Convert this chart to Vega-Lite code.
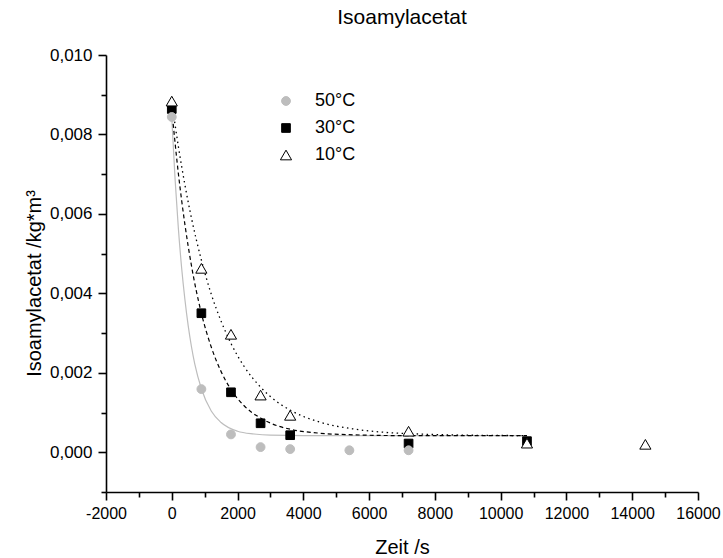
{
  "$schema": "https://vega.github.io/schema/vega-lite/v6.json",
  "width": 592,
  "height": 437,
  "autosize": "none",
  "padding": {"left": 106, "top": 55, "right": 25, "bottom": 66},
  "config": {
    "font": "Liberation Sans",
    "view": {"stroke": null},
    "axis": {"grid": false, "domainColor": "#000", "tickColor": "#000", "labelColor": "#000", "titleColor": "#000", "domainWidth": 1.6, "tickWidth": 1.6, "labelFont": "Liberation Sans", "titleFont": "Liberation Sans", "titleFontWeight": "normal", "labelOverlap": false, "labelBound": false, "labelFlush": false}
  },
  "title": {"text": "Isoamylacetat", "fontSize": 21, "fontWeight": "normal", "font": "Liberation Sans", "color": "#000", "anchor": "middle", "offset": 18},
  "datasets": {
    "fit": [
      {"series": "50°C", "t": 0, "c": 0.00842},
      {"series": "50°C", "t": 100, "c": 0.00688},
      {"series": "50°C", "t": 200, "c": 0.00564},
      {"series": "50°C", "t": 300, "c": 0.00464},
      {"series": "50°C", "t": 400, "c": 0.00384},
      {"series": "50°C", "t": 500, "c": 0.00318},
      {"series": "50°C", "t": 600, "c": 0.00265},
      {"series": "50°C", "t": 700, "c": 0.00222},
      {"series": "50°C", "t": 900, "c": 0.00160},
      {"series": "50°C", "t": 1200, "c": 0.00104},
      {"series": "50°C", "t": 1500, "c": 0.00075},
      {"series": "50°C", "t": 2000, "c": 0.00053},
      {"series": "50°C", "t": 2500, "c": 0.00046},
      {"series": "50°C", "t": 3000, "c": 0.00043},
      {"series": "50°C", "t": 4000, "c": 0.00042},
      {"series": "50°C", "t": 6000, "c": 0.00042},
      {"series": "50°C", "t": 8000, "c": 0.00042},
      {"series": "50°C", "t": 10800, "c": 0.00042},
      {"series": "30°C", "t": 0, "c": 0.00862},
      {"series": "30°C", "t": 200, "c": 0.00702},
      {"series": "30°C", "t": 400, "c": 0.00573},
      {"series": "30°C", "t": 600, "c": 0.00469},
      {"series": "30°C", "t": 900, "c": 0.00350},
      {"series": "30°C", "t": 1200, "c": 0.00265},
      {"series": "30°C", "t": 1500, "c": 0.00203},
      {"series": "30°C", "t": 1800, "c": 0.00158},
      {"series": "30°C", "t": 2200, "c": 0.00117},
      {"series": "30°C", "t": 2700, "c": 0.00086},
      {"series": "30°C", "t": 3200, "c": 0.00067},
      {"series": "30°C", "t": 3600, "c": 0.00058},
      {"series": "30°C", "t": 4500, "c": 0.00048},
      {"series": "30°C", "t": 5500, "c": 0.00044},
      {"series": "30°C", "t": 7000, "c": 0.00042},
      {"series": "30°C", "t": 10800, "c": 0.00042},
      {"series": "10°C", "t": 0, "c": 0.00882},
      {"series": "10°C", "t": 200, "c": 0.00770},
      {"series": "10°C", "t": 400, "c": 0.00673},
      {"series": "10°C", "t": 600, "c": 0.00589},
      {"series": "10°C", "t": 900, "c": 0.00484},
      {"series": "10°C", "t": 1200, "c": 0.00398},
      {"series": "10°C", "t": 1500, "c": 0.00330},
      {"series": "10°C", "t": 1800, "c": 0.00274},
      {"series": "10°C", "t": 2200, "c": 0.00216},
      {"series": "10°C", "t": 2700, "c": 0.00164},
      {"series": "10°C", "t": 3200, "c": 0.00127},
      {"series": "10°C", "t": 3600, "c": 0.00106},
      {"series": "10°C", "t": 4500, "c": 0.00076},
      {"series": "10°C", "t": 5500, "c": 0.00059},
      {"series": "10°C", "t": 6500, "c": 0.00050},
      {"series": "10°C", "t": 7500, "c": 0.00046},
      {"series": "10°C", "t": 9000, "c": 0.00043},
      {"series": "10°C", "t": 10800, "c": 0.00042}
    ],
    "pts": [
      {"series": "30°C", "t": 0, "c": 0.00864},
      {"series": "30°C", "t": 900, "c": 0.00350},
      {"series": "30°C", "t": 1800, "c": 0.00151},
      {"series": "30°C", "t": 2700, "c": 0.00073},
      {"series": "30°C", "t": 3600, "c": 0.00043},
      {"series": "30°C", "t": 7200, "c": 0.00022},
      {"series": "30°C", "t": 10800, "c": 0.00028},
      {"series": "50°C", "t": 0, "c": 0.00844},
      {"series": "50°C", "t": 900, "c": 0.00159},
      {"series": "50°C", "t": 1800, "c": 0.00045},
      {"series": "50°C", "t": 2700, "c": 0.00013},
      {"series": "50°C", "t": 3600, "c": 0.00008},
      {"series": "50°C", "t": 5400, "c": 0.00005},
      {"series": "50°C", "t": 7200, "c": 0.00005},
      {"series": "10°C", "t": 0, "c": 0.00884},
      {"series": "10°C", "t": 900, "c": 0.00463},
      {"series": "10°C", "t": 1800, "c": 0.00297},
      {"series": "10°C", "t": 2700, "c": 0.00144},
      {"series": "10°C", "t": 3600, "c": 0.00093},
      {"series": "10°C", "t": 7200, "c": 0.00053},
      {"series": "10°C", "t": 10800, "c": 0.00023},
      {"series": "10°C", "t": 14400, "c": 0.00020}
    ]
  },
  "resolve": {"axis": {"x": "independent", "y": "independent"}},
  "layer": [
    {
      "data": {"name": "fit"},
      "transform": [{"filter": "datum.series === '50°C'"}],
      "mark": {"type": "line", "stroke": "#bdbdbd", "strokeWidth": 1.2, "interpolate": "monotone"},
      "encoding": {
        "x": {"field": "t", "type": "quantitative", "scale": {"domain": [-2000, 16000], "nice": false, "zero": false},
          "axis": {"orient": "bottom", "values": [-2000, 0, 2000, 4000, 6000, 8000, 10000, 12000, 14000, 16000], "labelExpr": "'' + datum.value", "labelFontSize": 16, "tickSize": 8, "labelPadding": 5, "title": "Zeit /s", "titleFontSize": 20, "titleBaseline": "alphabetic", "titleY": 61}},
        "y": {"field": "c", "type": "quantitative", "scale": {"domain": [-0.001, 0.010], "nice": false, "zero": false},
          "axis": {"orient": "left", "values": [0, 0.002, 0.004, 0.006, 0.008, 0.010], "labelExpr": "replace(format(datum.value, '.3f'), '.', ',')", "labelFontSize": 17, "tickSize": 8, "labelPadding": 6, "title": "Isoamylacetat /kg*m³", "titleFontSize": 20, "titleBaseline": "alphabetic", "titleAngle": -90, "titleX": -66, "titleY": 228}}
      }
    },
    {
      "data": {"name": "fit"},
      "transform": [{"filter": "datum.series === '30°C'"}],
      "mark": {"type": "line", "stroke": "#000", "strokeWidth": 1.2, "strokeDash": [4, 3], "interpolate": "monotone"},
      "encoding": {
        "x": {"field": "t", "type": "quantitative",
          "axis": {"orient": "bottom", "values": [-1000, 1000, 3000, 5000, 7000, 9000, 11000, 13000, 15000], "labels": false, "domain": false, "tickSize": 5, "title": null}},
        "y": {"field": "c", "type": "quantitative",
          "axis": {"orient": "left", "values": [-0.001, 0.001, 0.003, 0.005, 0.007, 0.009], "labels": false, "domain": false, "tickSize": 5, "title": null}}
      }
    },
    {
      "data": {"name": "fit"},
      "transform": [{"filter": "datum.series === '10°C'"}],
      "mark": {"type": "line", "stroke": "#000", "strokeWidth": 1.3, "strokeDash": [1.5, 3.5], "interpolate": "monotone"},
      "encoding": {
        "x": {"field": "t", "type": "quantitative", "axis": null},
        "y": {"field": "c", "type": "quantitative", "axis": null}
      }
    },
    {
      "data": {"name": "pts"},
      "mark": {"type": "point", "filled": false, "strokeWidth": 1, "opacity": 1},
      "encoding": {
        "x": {"field": "t", "type": "quantitative", "axis": null},
        "y": {"field": "c", "type": "quantitative", "axis": null},
        "shape": {"field": "series", "type": "nominal", "scale": {"domain": ["50°C", "30°C", "10°C"], "range": ["circle", "square", "triangle-up"]},
          "legend": {"title": null, "orient": "none", "legendX": 171, "legendY": 37, "labelFontSize": 18, "labelColor": "#000", "labelOffset": 20, "rowPadding": 9, "padding": 0, "symbolStrokeWidth": 1}},
        "fill": {"field": "series", "type": "nominal", "scale": {"domain": ["50°C", "30°C", "10°C"], "range": ["#bdbdbd", "#000000", "#ffffff"]},
          "legend": {"title": null, "orient": "none", "legendX": 171, "legendY": 37, "labelFontSize": 18, "labelColor": "#000", "labelOffset": 20, "rowPadding": 9, "padding": 0, "symbolStrokeWidth": 1}},
        "stroke": {"field": "series", "type": "nominal", "scale": {"domain": ["50°C", "30°C", "10°C"], "range": ["#bdbdbd", "#000000", "#000000"]},
          "legend": {"title": null, "orient": "none", "legendX": 171, "legendY": 37, "labelFontSize": 18, "labelColor": "#000", "labelOffset": 20, "rowPadding": 9, "padding": 0, "symbolStrokeWidth": 1}},
        "size": {"field": "series", "type": "nominal", "scale": {"type": "ordinal", "domain": ["50°C", "30°C", "10°C"], "range": [78, 75, 125]},
          "legend": {"title": null, "orient": "none", "legendX": 171, "legendY": 37, "labelFontSize": 18, "labelColor": "#000", "labelOffset": 20, "rowPadding": 9, "padding": 0, "symbolStrokeWidth": 1}}
      }
    }
  ]
}
